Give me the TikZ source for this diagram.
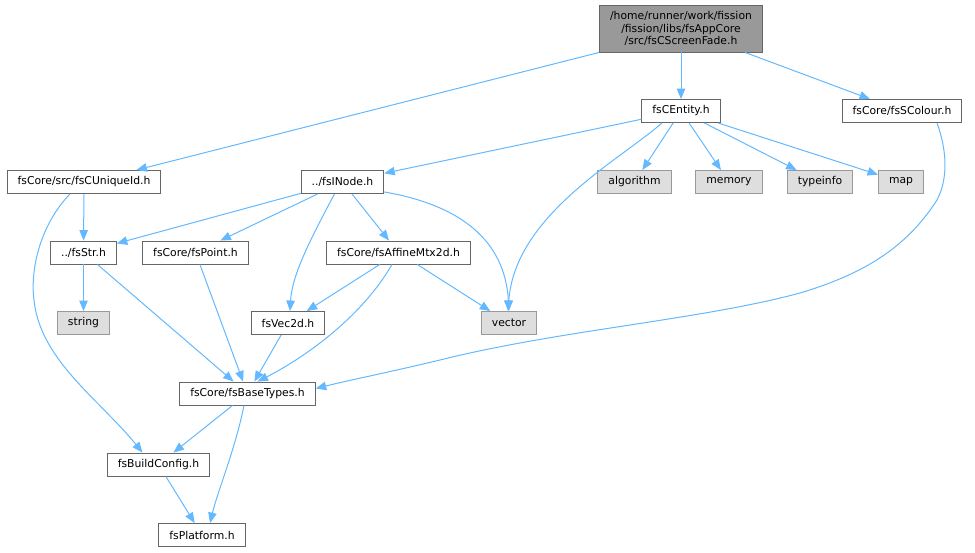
\documentclass[tikz,border=0pt]{standalone}
\usepackage{fontspec}
\setmainfont{DejaVu Sans}
\usetikzlibrary{arrows.meta}

\definecolor{edgeblue}{HTML}{63B8FF}
\definecolor{grey40}{HTML}{666666}
\definecolor{grey60}{HTML}{999999}
\definecolor{grey87}{HTML}{DEDEDE}

\tikzset{
  hdr/.style  = {shape=rectangle, draw=grey40, fill=white, line width=0.9pt,
                 inner xsep=10.5pt, inner ysep=0pt, minimum height=23pt,
                 font=\fontsize{10.8}{12.5}\selectfont},
  root/.style = {hdr, fill=grey60, align=center, minimum height=47pt},
  sys/.style  = {hdr, draw=grey60, fill=grey87},
  incl/.style = {draw=edgeblue, line width=1pt,
                 -{Triangle[length=10.5pt,width=8.5pt]}}
}

\begin{document}
\begin{tikzpicture}[x=1pt, y=-1pt]
  \useasboundingbox (0,0) rectangle (975,552);
  % files
  \node [root] (root) at (681,28.5)
    {/home/runner/work/fission\\/fission/libs/fsAppCore\\/src/fsCScreenFade.h};
  \node [hdr] (entity)    at (681,111)     {fsCEntity.h};
  \node [hdr] (colour)    at (902,111)     {fsCore/fsSColour.h};
  \node [hdr] (uniqueid)  at (84,182)      {fsCore/src/fsCUniqueId.h};
  \node [hdr] (inode)     at (342.5,182)   {../fsINode.h};
  \node [sys] (algorithm) at (634.5,182)   {algorithm};
  \node [sys] (memory)    at (729,182)     {memory};
  \node [sys] (typeinfo)  at (820,182)     {typeinfo};
  \node [sys] (map)       at (901,182)     {map};
  \node [hdr] (str)       at (83.5,252.5)  {../fsStr.h};
  \node [hdr] (point)     at (195.5,252.5) {fsCore/fsPoint.h};
  \node [hdr] (affine)    at (398.5,252.5) {fsCore/fsAffineMtx2d.h};
  \node [sys] (string)    at (83.5,323)    {string};
  \node [hdr] (vec)       at (288,323)     {fsVec2d.h};
  \node [sys] (vector)    at (509,323)     {vector};
  \node [hdr] (basetypes) at (247.5,393.5) {fsCore/fsBaseTypes.h};
  \node [hdr] (buildcfg)  at (158.5,464.5) {fsBuildConfig.h};
  \node [hdr] (platform)  at (202,535)     {fsPlatform.h};

  % includes
  \draw [incl] (root.south west) -- ([xshift=-25pt]uniqueid.north east);
  \draw [incl] (root) -- (entity);
  \draw [incl] (root) -- (colour);
  \draw [incl] (entity) -- (inode);
  \draw [incl] ([xshift=-19pt]entity.south) .. controls (620,160) and (515,215)
    .. ([xshift=-1pt]vector.north);
  \draw [incl] (entity) -- (algorithm);
  \draw [incl] (entity) -- (memory);
  \draw [incl] (entity) -- (typeinfo);
  \draw [incl] (entity) -- (map);
  \draw [incl] ([xshift=35pt]colour.south) .. controls (945,145) and (950,175) .. (937,200)
    .. controls (905,250) and (860,275) .. (800,293)
    .. controls (700,320) and (560,330) .. (440,360)
    .. controls (390,372) and (350,380) .. ([yshift=5pt]basetypes.east);
  \draw [incl] (uniqueid) -- (str);
  \draw [incl] ([xshift=-14pt]uniqueid.south) .. controls (40,225) and (30,270) .. (34,300)
    .. controls (40,360) and (100,400) .. ([xshift=-16pt]buildcfg.north);
  \draw [incl] (inode) -- (str);
  \draw [incl] (inode) -- (point);
  \draw [incl] ([xshift=-8pt]inode.south) .. controls (310,240) and (292,275)
    .. ([xshift=2pt]vec.north);
  \draw [incl] (inode) -- (affine);
  \draw [incl] ([yshift=2pt]inode.south east) .. controls (460,205) and (505,240)
    .. (vector.north);
  \draw [incl] (str) -- (string);
  \draw [incl] (str) -- (basetypes);
  \draw [incl] (point) -- (basetypes);
  \draw [incl] (affine) -- (vec);
  \draw [incl] (affine) -- (vector);
  \draw [incl] ([xshift=-6.5pt]affine.south) .. controls (360,320) and (300,360)
    .. ([xshift=10pt]basetypes.north);
  \draw [incl] (vec) -- (basetypes);
  \draw [incl] (basetypes) -- (buildcfg);
  \draw [incl] ([xshift=-3.5pt]basetypes.south) .. controls (235,450) and (218,490)
    .. ([xshift=8pt]platform.north);
  \draw [incl] (buildcfg) -- (platform);
\end{tikzpicture}
\end{document}
